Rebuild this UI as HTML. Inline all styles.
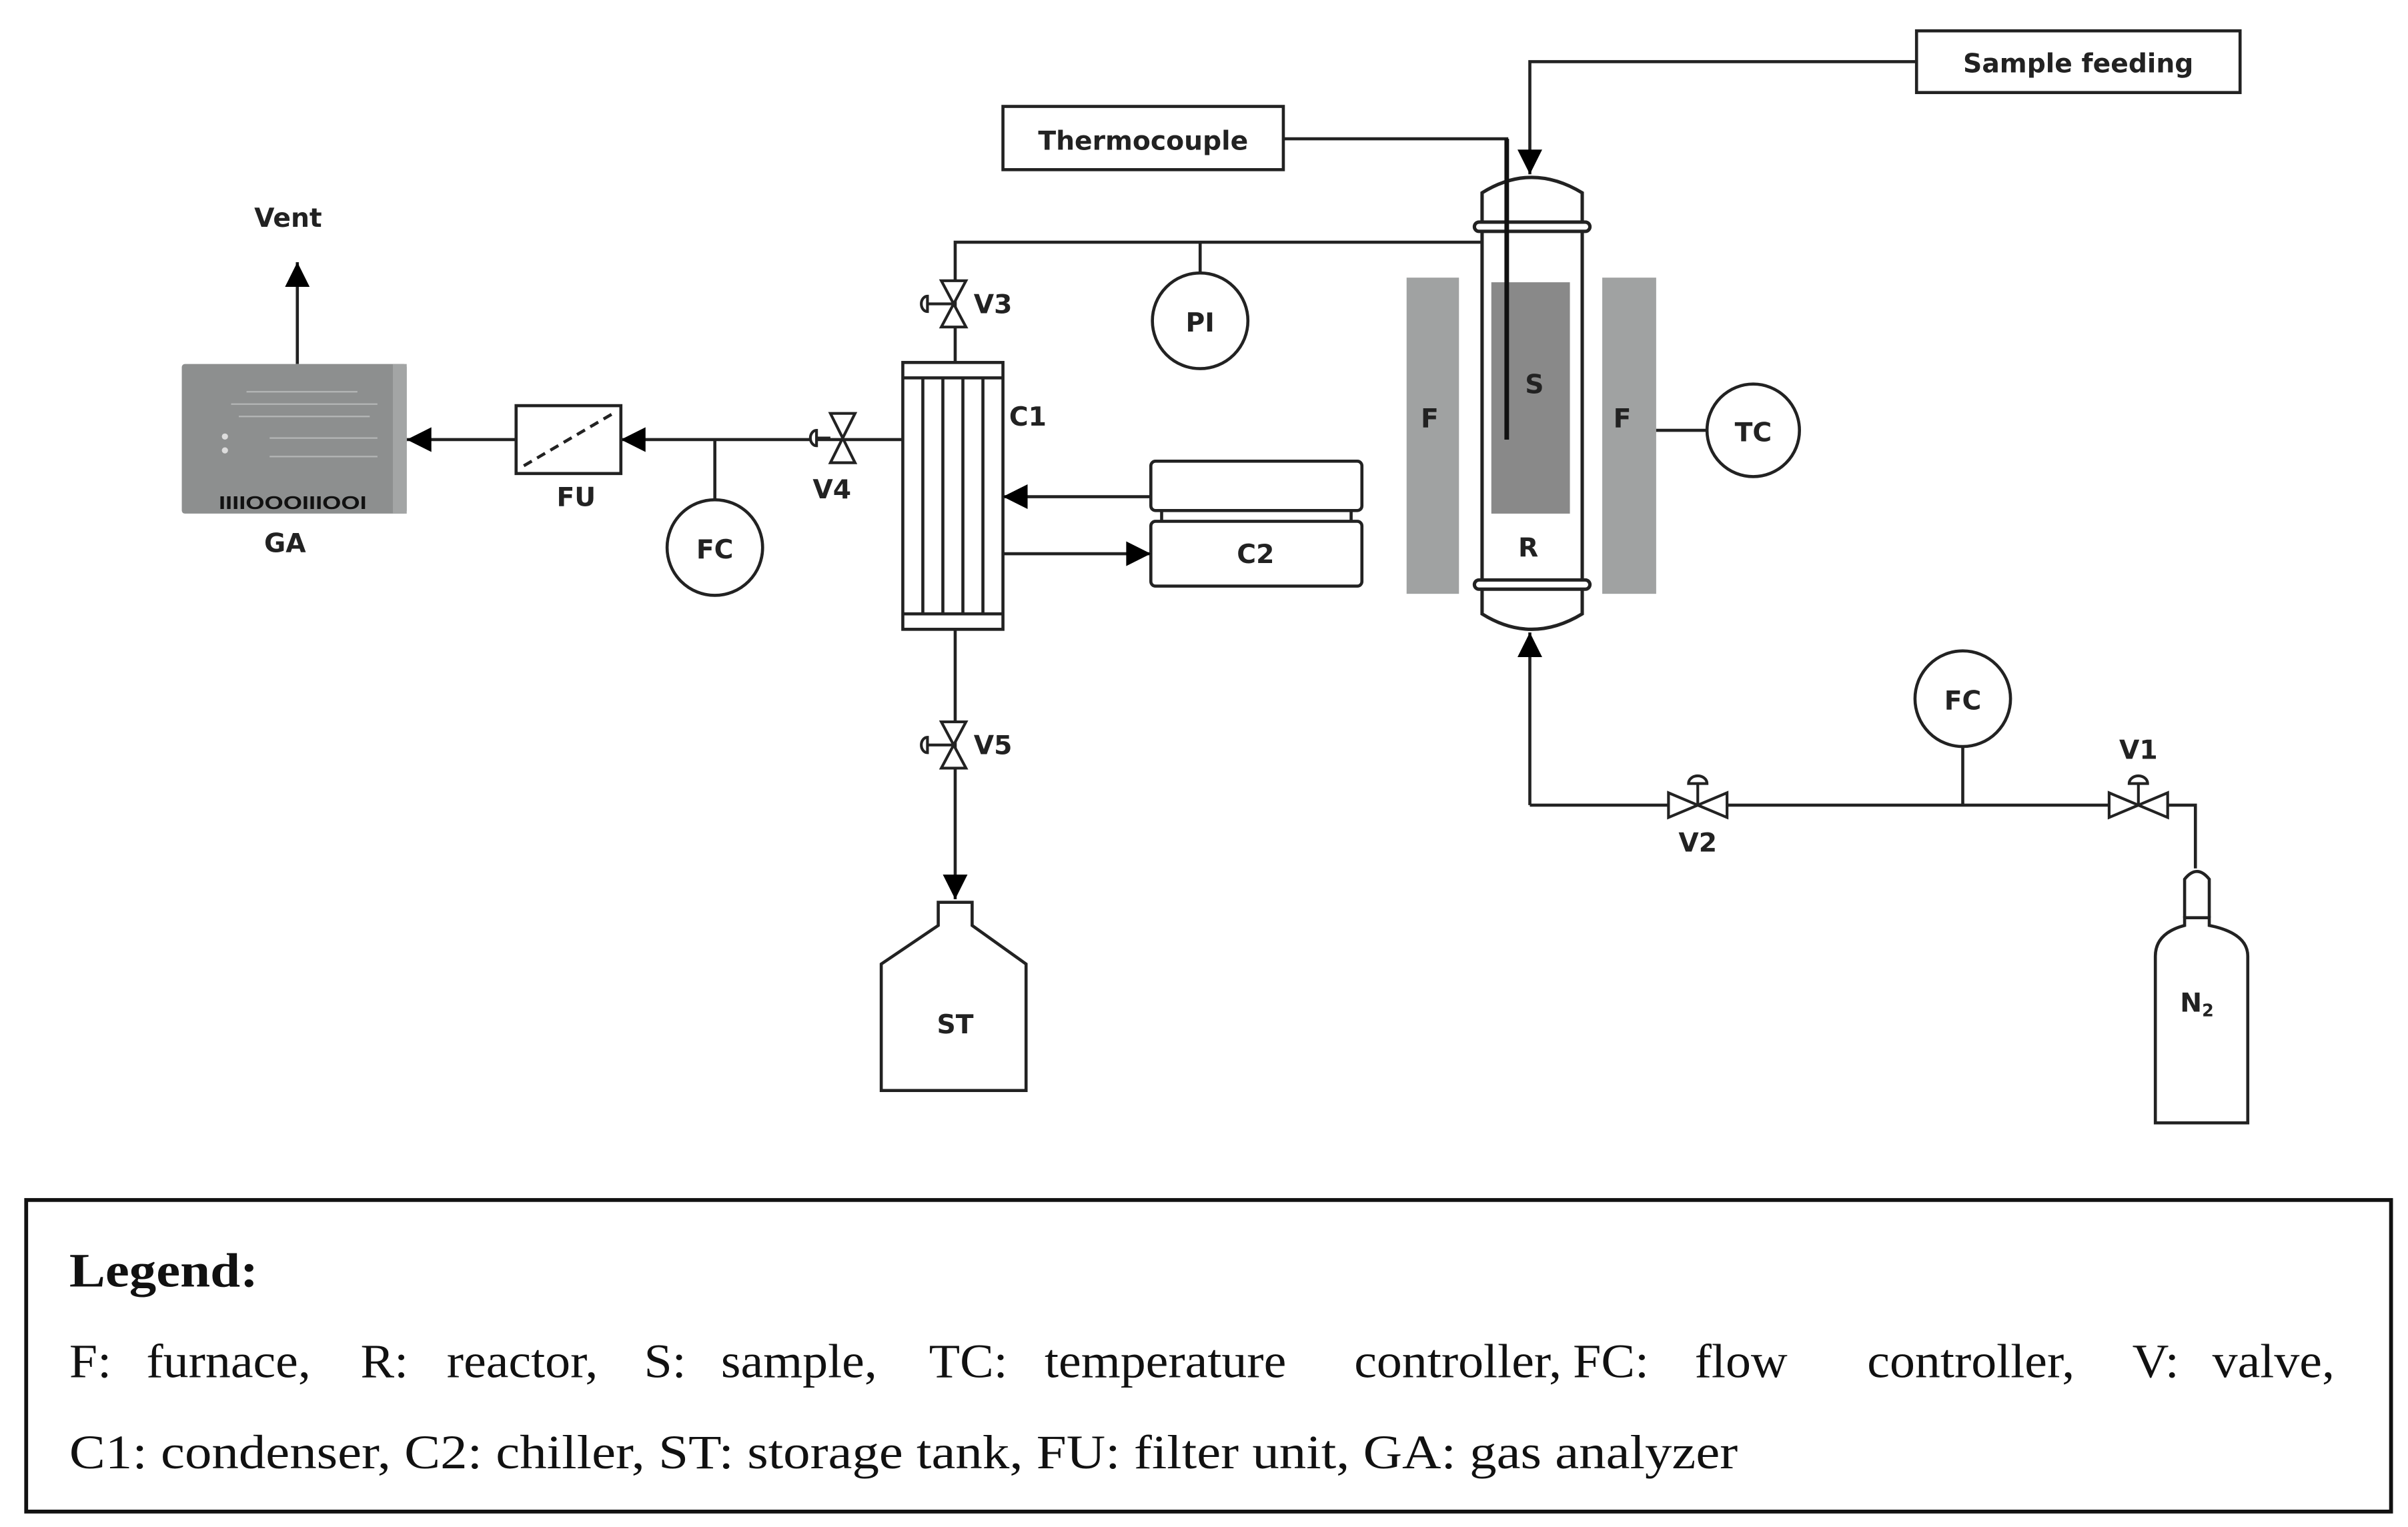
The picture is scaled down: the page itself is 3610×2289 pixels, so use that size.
<!DOCTYPE html>
<html><head><meta charset="utf-8"><style>
html,body{margin:0;padding:0;background:#fff;}
svg{display:block;}
.l{font-family:"DejaVu Sans","Liberation Sans",sans-serif;font-weight:bold;font-size:17px;fill:#222;}
.g{font-family:"Liberation Serif",serif;font-size:31px;fill:#111;}
</style></head><body>
<svg width="3610" height="2289" viewBox="0 0 1563 990" preserveAspectRatio="none" xmlns="http://www.w3.org/2000/svg">
<defs>
<marker id="A" viewBox="0 0 10 10" refX="10" refY="5" markerWidth="18" markerHeight="16" orient="auto" markerUnits="userSpaceOnUse"><path d="M0,0L10,5L0,10z" fill="#000"/></marker>
</defs>
<g fill="none" stroke="#222" stroke-width="2">
<rect x="1244" y="20" width="210" height="40"/>
<polyline points="1244,40 993,40 993,113" marker-end="url(#A)"/>
<rect x="651" y="69" width="182" height="41"/>
<polyline points="833,90 978,90 978,100"/>
</g>
<text class="l" x="1349" y="47" text-anchor="middle" font-size="19">Sample feeding</text>
<text class="l" x="742" y="97" text-anchor="middle" font-size="19">Thermocouple</text>
<rect x="913" y="180" width="34" height="205" fill="#a0a2a2"/>
<rect x="1040" y="180" width="35" height="205" fill="#a0a2a2"/>
<g fill="none" stroke="#222" stroke-width="2.2">
<path d="M962,145 L962,125 Q994,105 1027,125 L1027,145"/>
<path d="M962,382 L962,398 Q994,418 1027,398 L1027,382"/>
<line x1="962" y1="150" x2="962" y2="377"/>
<line x1="1027" y1="150" x2="1027" y2="377"/>
<rect x="957" y="144" width="75" height="6" rx="3" fill="#fff"/>
<rect x="957" y="376" width="75" height="6" rx="3" fill="#fff"/>
</g>
<rect x="968" y="183" width="51" height="150" fill="#898989"/>
<line x1="978" y1="90" x2="978" y2="285" stroke="#111" stroke-width="3"/>
<text class="l" x="928" y="277" text-anchor="middle">F</text>
<text class="l" x="1053" y="277" text-anchor="middle">F</text>
<text class="l" x="996" y="255" text-anchor="middle">S</text>
<text class="l" x="992" y="361" text-anchor="middle">R</text>
<g fill="none" stroke="#222" stroke-width="2">
<line x1="1075" y1="279" x2="1108" y2="279"/>
<circle cx="1138" cy="279" r="30" fill="#fff"/>
<polyline points="962,157 620,157 620,235"/>
<line x1="779" y1="157" x2="779" y2="177"/>
<circle cx="779" cy="208" r="31" fill="#fff"/>
<rect x="586" y="235" width="65" height="173" fill="#fff"/>
<line x1="586" y1="245" x2="651" y2="245"/>
<line x1="586" y1="398" x2="651" y2="398"/>
<line x1="599" y1="245" x2="599" y2="398"/>
<line x1="612" y1="245" x2="612" y2="398"/>
<line x1="625" y1="245" x2="625" y2="398"/>
<line x1="638" y1="245" x2="638" y2="398"/>
<line x1="620" y1="408" x2="620" y2="583" marker-end="url(#A)"/>
<path d="M609,585 L631,585 L631,600 L666,625 L666,707 L572,707 L572,625 L609,600 Z" fill="#fff"/>
<rect x="747" y="299" width="137" height="32" rx="3"/>
<rect x="747" y="338" width="137" height="42" rx="3"/>
<line x1="754" y1="331" x2="754" y2="338"/><line x1="877" y1="331" x2="877" y2="338"/>
<line x1="747" y1="322" x2="651" y2="322" marker-end="url(#A)"/>
<line x1="651" y1="359" x2="747" y2="359" marker-end="url(#A)"/>
<line x1="586" y1="285" x2="403" y2="285" marker-end="url(#A)"/>
<line x1="464" y1="285" x2="464" y2="325"/>
<circle cx="464" cy="355" r="31" fill="#fff"/>
<rect x="335" y="263" width="68" height="44" fill="#fff"/>
<line x1="340" y1="302" x2="398" y2="268" stroke-dasharray="6,4"/>
<line x1="335" y1="285" x2="264" y2="285" marker-end="url(#A)"/>
<line x1="193" y1="236" x2="193" y2="170" marker-end="url(#A)"/>
<polyline points="993,522 993,410" marker-end="url(#A)"/>
<polyline points="993,522 1425,522 1425,563"/>
<line x1="1274" y1="484" x2="1274" y2="522"/>
<circle cx="1274" cy="453" r="31" fill="#fff"/>
<path d="M1418,595 L1418,570 Q1426,560 1434,570 L1434,595" fill="#fff"/>
<path d="M1399,728 L1399,620 Q1399,605 1418,600 L1418,595 L1434,595 L1434,600 Q1459,605 1459,620 L1459,728 Z" fill="#fff"/>
</g>
<g stroke="#222" stroke-width="1.8" fill="#fff">
<path d="M611,182 L627,182 L619,197 L627,212 L611,212 L619,197 Z"/>
<line x1="619" y1="197" x2="602" y2="197"/><path d="M602,192 A4,5 0 0 0 602,202Z"/>
<path d="M611,468 L627,468 L619,483 L627,498 L611,498 L619,483 Z"/>
<line x1="619" y1="483" x2="602" y2="483"/><path d="M602,478 A4,5 0 0 0 602,488Z"/>
<path d="M539,268 L555,268 L547,284 L555,300 L539,300 L547,284 Z"/>
<line x1="539" y1="284" x2="530" y2="284"/><path d="M530,279 A4,5 0 0 0 530,289Z"/>
<path d="M1083,514 L1083,530 L1102,522 L1121,530 L1121,514 L1102,522 Z"/>
<line x1="1102" y1="522" x2="1102" y2="508"/><path d="M1096,508 A6,5 0 0 1 1108,508Z"/>
<path d="M1369,514 L1369,530 L1388,522 L1407,530 L1407,514 L1388,522 Z"/>
<line x1="1388" y1="522" x2="1388" y2="508"/><path d="M1382,508 A6,5 0 0 1 1394,508Z"/>
</g>
<rect x="118" y="236" width="146" height="97" rx="2" fill="#8d8f8f"/>
<rect x="255" y="236" width="9" height="97" fill="#a3a5a5"/>
<g stroke="#b4b6b6" stroke-width="1">
<line x1="160" y1="254" x2="232" y2="254"/><line x1="150" y1="262" x2="245" y2="262"/><line x1="155" y1="270" x2="240" y2="270"/>
<line x1="175" y1="296" x2="245" y2="296"/><line x1="175" y1="284" x2="245" y2="284"/>
</g>
<circle cx="146" cy="283" r="2" fill="#ddd"/><circle cx="146" cy="292" r="2" fill="#ddd"/>
<text x="190" y="330" text-anchor="middle" font-family="Liberation Sans,sans-serif" font-weight="bold" font-size="12" fill="#111" textLength="96" lengthAdjust="spacingAndGlyphs">IIIIOOOIIIOOI</text>
<text class="l" x="187" y="147" text-anchor="middle" font-size="20">Vent</text>
<text class="l" x="185" y="358" text-anchor="middle">GA</text>
<text class="l" x="374" y="328" text-anchor="middle">FU</text>
<text class="l" x="464" y="362" text-anchor="middle">FC</text>
<text class="l" x="540" y="323" text-anchor="middle" font-size="15">V4</text>
<text class="l" x="632" y="203" font-size="15">V3</text>
<text class="l" x="632" y="489" font-size="15">V5</text>
<text class="l" x="655" y="276" font-size="18">C1</text>
<text class="l" x="779" y="215" text-anchor="middle">PI</text>
<text class="l" x="815" y="365" text-anchor="middle">C2</text>
<text class="l" x="620" y="670" text-anchor="middle">ST</text>
<text class="l" x="1138" y="286" text-anchor="middle">TC</text>
<text class="l" x="1274" y="460" text-anchor="middle">FC</text>
<text class="l" x="1102" y="552" text-anchor="middle" font-size="15">V2</text>
<text class="l" x="1388" y="492" text-anchor="middle" font-size="15">V1</text>
<text class="l" x="1426" y="656" text-anchor="middle" font-size="16">N<tspan font-size="11" dy="3">2</tspan></text>
<rect x="17" y="778" width="1535" height="202" fill="none" stroke="#111" stroke-width="2.5"/>
<text class="g" transform="translate(45,834) scale(1.13,1)" font-weight="bold">Legend:</text>
<text class="g" transform="translate(45,893) scale(1.06,1)">F:</text>
<text class="g" transform="translate(95,893) scale(1.06,1)">furnace,</text>
<text class="g" transform="translate(234,893) scale(1.06,1)">R:</text>
<text class="g" transform="translate(290,893) scale(1.06,1)">reactor,</text>
<text class="g" transform="translate(418,893) scale(1.06,1)">S:</text>
<text class="g" transform="translate(468,893) scale(1.06,1)">sample,</text>
<text class="g" transform="translate(603,893) scale(1.06,1)">TC:</text>
<text class="g" transform="translate(678,893) scale(1.06,1)">temperature</text>
<text class="g" transform="translate(879,893) scale(1.06,1)">controller,</text>
<text class="g" transform="translate(1021,893) scale(1.06,1)">FC:</text>
<text class="g" transform="translate(1100,893) scale(1.06,1)">flow</text>
<text class="g" transform="translate(1212,893) scale(1.06,1)">controller,</text>
<text class="g" transform="translate(1384,893) scale(1.06,1)">V:</text>
<text class="g" transform="translate(1436,893) scale(1.06,1)">valve,</text>
<text class="g" transform="translate(45,952) scale(1.13,1)">C1: condenser, C2: chiller, ST: storage tank, FU: filter unit, GA: gas analyzer</text>
</svg>
</body></html>
